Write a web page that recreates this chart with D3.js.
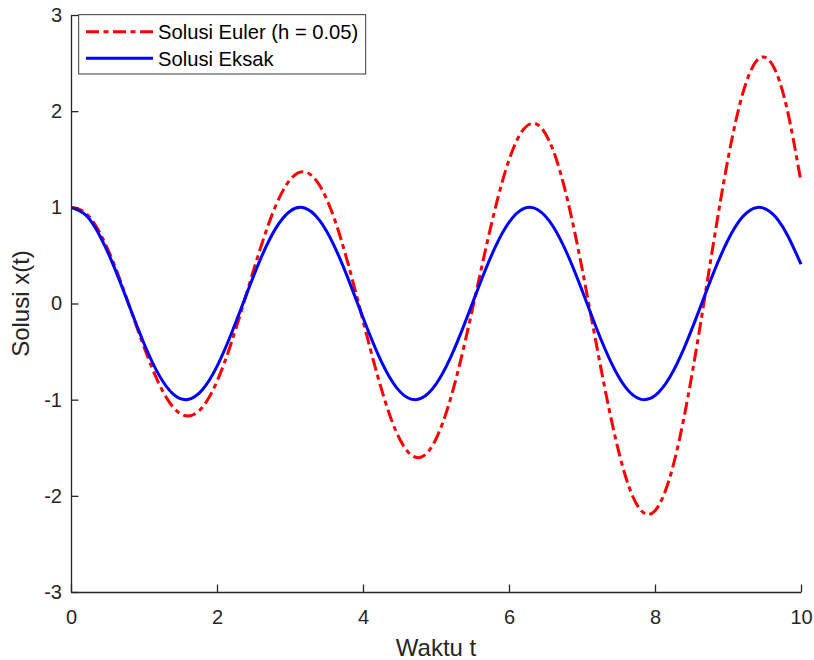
<!DOCTYPE html>
<html>
<head>
<meta charset="utf-8">
<script src="https://cdn.jsdelivr.net/npm/d3@7"></script>
<style>
  html, body { margin: 0; padding: 0; background: #ffffff; }
  svg { display: block; font-family: "Liberation Sans", Arial, Helvetica, sans-serif; }
</style>
</head>
<body>
<svg id="chart" width="814" height="660"></svg>
<script>
// ---- data ----
const timeValues = [0, 0.2, 0.4, 0.6, 0.8, 1.0, 1.2, 1.4, 1.6, 1.8,
  2.0, 2.2, 2.4, 2.6, 2.8, 3.0, 3.2, 3.4, 3.6, 3.8,
  4.0, 4.2, 4.4, 4.6, 4.8, 5.0, 5.2, 5.4, 5.6, 5.8,
  6.0, 6.2, 6.4, 6.6, 6.8, 7.0, 7.2, 7.4, 7.6, 7.8,
  8.0, 8.2, 8.4, 8.6, 8.8, 9.0, 9.2, 9.4, 9.6, 9.8, 10.0];

const eulerValues = [1.000, 0.940, 0.727, 0.389, -0.026, -0.453, -0.825, -1.079, -1.171, -1.079,
  -0.810, -0.400, 0.091, 0.587, 1.009, 1.286, 1.369, 1.235, 0.897, 0.402,
  -0.178, -0.752, -1.230, -1.529, -1.596, -1.409, -0.988, -0.392, 0.291, 0.955,
  1.493, 1.813, 1.856, 1.603, 1.082, 0.366, -0.437, -1.203, -1.807, -2.145,
  -2.154, -1.817, -1.175, -0.319, 0.624, 1.504, 2.179, 2.532, 2.493, 2.053, 1.265];

const exactValues = [1.000, 0.921, 0.697, 0.362, -0.029, -0.416, -0.737, -0.942, -0.998, -0.897,
  -0.654, -0.307, 0.087, 0.469, 0.776, 0.960, 0.993, 0.869, 0.608, 0.251,
  -0.146, -0.519, -0.811, -0.975, -0.985, -0.839, -0.561, -0.194, 0.203, 0.568,
  0.844, 0.986, 0.973, 0.806, 0.512, 0.137, -0.260, -0.615, -0.874, -0.994,
  -0.958, -0.770, -0.461, -0.079, 0.316, 0.660, 0.901, 0.999, 0.939, 0.731, 0.408];

const seriesNames = ["Solusi Euler (h = 0.05)", "Solusi Eksak"];
const xTicks = [0, 2, 4, 6, 8, 10];
const yTicks = [-3, -2, -1, 0, 1, 2, 3];
const xLabel = "Waktu t";
const yLabel = "Solusi x(t)";

// ---- layout ----
const plotLeft = 71, plotRight = 801, plotTop = 15, plotBottom = 592;
const axisColor = "#262626";

const svg = d3.select("#chart");
const x = d3.scaleLinear().domain([0, 10]).range([plotLeft, plotRight]);
const y = d3.scaleLinear().domain([-3, 3]).range([plotBottom, plotTop]);

const eulerData = timeValues.map((t, i) => ({ t, v: eulerValues[i] }));
const exactData = timeValues.map((t, i) => ({ t, v: exactValues[i] }));

svg.append("defs").append("clipPath").attr("id", "plotClip")
  .append("rect").attr("x", plotLeft).attr("y", plotTop - 2)
  .attr("width", plotRight - plotLeft + 2).attr("height", plotBottom - plotTop + 2);

const line = d3.line().x(d => x(d.t)).y(d => y(d.v)).curve(d3.curveNatural);

const plot = svg.append("g").attr("clip-path", "url(#plotClip)");
plot.append("path").datum(eulerData)
  .attr("d", line).attr("fill", "none")
  .attr("stroke", "#ff0000").attr("stroke-width", 3)
  .attr("stroke-dasharray", "13,4.5,5,4.5");
plot.append("path").datum(exactData)
  .attr("d", line).attr("fill", "none")
  .attr("stroke", "#0000ff").attr("stroke-width", 3);

// ---- axes ----
const xAxis = d3.axisBottom(x).tickValues(xTicks).tickFormat(d3.format("d"))
  .tickSizeInner(-7.5).tickSizeOuter(0).tickPadding(18);
const yAxis = d3.axisLeft(y).tickValues(yTicks).tickFormat(d => d < 0 ? "-" + Math.abs(d) : String(d))
  .tickSizeInner(-7.5).tickSizeOuter(0).tickPadding(9);

const gx = svg.append("g").attr("transform", `translate(0,${plotBottom})`).call(xAxis);
const gy = svg.append("g").attr("transform", `translate(${plotLeft},0)`).call(yAxis);

[gx, gy].forEach(g => {
  g.select(".domain").attr("stroke", axisColor).attr("stroke-width", 1.3);
  g.selectAll(".tick line").attr("stroke", axisColor).attr("stroke-width", 1.3);
  g.selectAll(".tick text").attr("fill", axisColor)
    .style("font-size", "20px").style("font-family", "'Liberation Sans', Arial, sans-serif");
});

svg.append("text").attr("x", (plotLeft + plotRight) / 2).attr("y", 656)
  .attr("text-anchor", "middle").attr("fill", axisColor)
  .style("font-size", "24px").text(xLabel);

svg.append("text").attr("transform", `translate(28.5,${(plotTop + plotBottom) / 2}) rotate(-90)`)
  .attr("text-anchor", "middle").attr("fill", axisColor)
  .style("font-size", "24px").text(yLabel);

// ---- legend ----
const legend = svg.append("g");
legend.append("rect").attr("x", 78.7).attr("y", 14.7).attr("width", 287).attr("height", 59.3)
  .attr("fill", "#ffffff").attr("stroke", axisColor).attr("stroke-width", 0.9);
const legendStyles = [
  { color: "#ff0000", dash: "13,4.5,5,4.5" },
  { color: "#0000ff", dash: null }
];
seriesNames.forEach((name, i) => {
  const ly = 31.7 + i * 26.6;
  legend.append("line").attr("x1", 86).attr("x2", 153).attr("y1", ly).attr("y2", ly)
    .attr("stroke", legendStyles[i].color).attr("stroke-width", 3)
    .attr("stroke-dasharray", legendStyles[i].dash);
  legend.append("text").attr("x", 158).attr("y", ly + 7.2)
    .attr("fill", "#000000").style("font-size", "20.2px").text(name);
});
</script>
</body>
</html>
